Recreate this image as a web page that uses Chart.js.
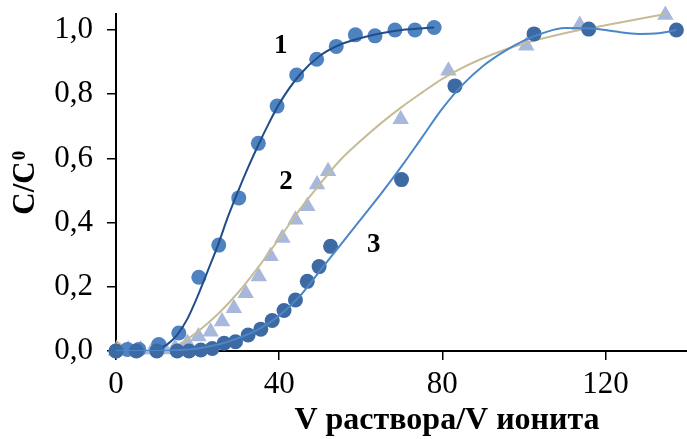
<!DOCTYPE html>
<html>
<head>
<meta charset="utf-8">
<script src="https://cdn.jsdelivr.net/npm/chart.js@4"></script>
<style>
  body { margin: 0; background: #fff; }
  #contenedor { width: 687px; height: 439px; }
</style>
</head>
<body>
<div id="contenedor"><canvas id="grafico" width="687" height="439"></canvas></div>
<script>
// Datos experimentales (C/C0 frente a V раствора/V ионита)
const x1 = [0, 2.8, 5.6, 10.5, 15.4, 20.3, 25.2, 30.1, 34.9, 39.5, 44.3, 49.2, 54, 58.7, 63.5, 68.4, 73.3, 78];
const y1 = [0, 0.005, 0.005, 0.02, 0.056, 0.23, 0.33, 0.477, 0.647, 0.763, 0.86, 0.909, 0.949, 0.985, 0.982, 1.0, 1.0, 1.008];

const x2 = [0, 3, 6, 9, 12, 14.5, 17.5, 20.2, 23.2, 26, 28.9, 31.8, 35, 37.9, 40.8, 44, 46.9, 49.3, 52, 69.8, 81.5, 100.6, 113.7, 134.7];
const y2 = [0, 0.005, 0.005, 0.005, 0.005, 0.01, 0.025, 0.045, 0.06, 0.092, 0.133, 0.18, 0.232, 0.295, 0.352, 0.409, 0.451, 0.519, 0.56, 0.722, 0.873, 0.951, 1.016, 1.047];

const x3 = [0, 5, 10, 15, 17.9, 20.8, 23.6, 26.5, 29.3, 32.4, 35.5, 38.3, 41.2, 44, 46.9, 49.8, 52.6, 70, 83.1, 102.5, 115.9, 137.4];
const y3 = [0, 0, 0, 0, 0, 0.003, 0.008, 0.024, 0.029, 0.05, 0.068, 0.095, 0.126, 0.159, 0.217, 0.263, 0.326, 0.534, 0.826, 0.988, 1.003, 1.0];

// Curvas de ajuste
const lx1 = [0, 5, 8, 10, 12.5, 15, 17.5, 20, 22.5, 25, 27.5, 30, 32.5, 35, 37.5, 40, 45, 50, 55, 60, 65, 70, 78];
const ly1 = [0, 0, 0, 0.005, 0.02, 0.05, 0.1, 0.17, 0.25, 0.33, 0.42, 0.5, 0.575, 0.645, 0.71, 0.77, 0.86, 0.92, 0.955, 0.975, 0.99, 1.0, 1.008];

const lx2 = [0, 2, 4, 8, 13, 16, 20, 25, 30, 35, 40, 45, 50, 55, 60, 65, 70, 75, 80, 85, 90, 95, 100, 110, 120, 134.7];
const ly2 = [0.032, 0.012, 0.002, 0, 0.004, 0.025, 0.06, 0.115, 0.183, 0.263, 0.35, 0.44, 0.52, 0.595, 0.655, 0.71, 0.76, 0.805, 0.848, 0.883, 0.912, 0.937, 0.958, 0.99, 1.015, 1.05];

const lx3 = [0, 10, 15, 20, 25, 30, 35, 40, 45, 50, 55, 60, 65, 70, 75, 80, 85, 90, 95, 100, 105, 110, 116.7, 122, 128.2, 133, 137.4];
const ly3 = [0, 0, 0.002, 0.008, 0.02, 0.04, 0.068, 0.11, 0.17, 0.25, 0.33, 0.41, 0.49, 0.575, 0.665, 0.755, 0.83, 0.888, 0.932, 0.967, 0.992, 1.006, 1.005, 0.996, 0.988, 0.99, 1.0];

const xTicks = [0, 40, 80, 120];
const yTicks = [0, 0.2, 0.4, 0.6, 0.8, 1.0];

// Etiquetas de las curvas
const etiquetas = ['1', '2', '3'];
const etiquetasX = [40.4, 41.7, 63.2];
const etiquetasY = [0.951, 0.527, 0.33];

function puntos(xs, ys) {
    return xs.map((x, i) => ({ x: x, y: ys[i] }));
}

const fuente = 'Liberation Serif, Times New Roman, serif';

const pluginTextos = {
    id: 'textos',
    afterDraw(chart) {
        const c = chart.ctx;
        const sx = chart.scales.x, sy = chart.scales.y;
        c.save();
        c.fillStyle = '#000';
        c.textAlign = 'center';
        c.textBaseline = 'middle';
        c.font = 'bold 27px ' + fuente;
        etiquetas.forEach((t, i) => {
            c.fillText(t, sx.getPixelForValue(etiquetasX[i]), sy.getPixelForValue(etiquetasY[i]));
        });
        // titulo eje X
        c.font = 'bold 32px ' + fuente;
        c.fillText('V раствора/V ионита', 447, 421);
        // titulo eje Y
        c.translate(26, 183);
        c.rotate(-Math.PI / 2);
        c.textAlign = 'left';
        c.font = 'bold 31px ' + fuente;
        const w = c.measureText('C/C').width;
        c.fillText('C/C', -w / 2 - 5, 0);
        c.font = 'bold 19px ' + fuente;
        c.fillText('0', w / 2 - 4, -6);
        c.restore();
    }
};

// sin relleno extra alrededor de los ejes
function sinPadding(s) {
    s.paddingTop = 0;
    s.paddingBottom = 0;
    s.paddingLeft = 0;
    s.paddingRight = 0;
}

const ctx = document.getElementById('grafico').getContext('2d');
new Chart(ctx, {
    type: 'scatter',
    data: {
        datasets: [
            { data: puntos(lx3, ly3), showLine: true, pointRadius: 0, borderColor: '#4a86c8', borderWidth: 2, cubicInterpolationMode: 'monotone' },
            { data: puntos(x3, y3), pointRadius: 7.5, backgroundColor: '#3e6aa4', borderWidth: 0, clip: false },
            { data: puntos(lx1, ly1), showLine: true, pointRadius: 0, borderColor: '#1f4e8a', borderWidth: 2, cubicInterpolationMode: 'monotone' },
            { data: puntos(x1, y1), pointRadius: 7.5, backgroundColor: '#4f82c0', borderWidth: 0, clip: false },
            { data: puntos(lx2, ly2), showLine: true, pointRadius: 0, borderColor: '#c6bd96', borderWidth: 2, cubicInterpolationMode: 'monotone' },
            { data: puntos(x2, y2), pointRadius: 9.5, pointStyle: 'triangle', backgroundColor: '#a7b8dc', borderWidth: 0, clip: false }
        ]
    },
    options: {
        responsive: false,
        animation: false,
        layout: { autoPadding: false, padding: { top: 14, right: 0, left: 0, bottom: 0 } },
        plugins: { legend: { display: false }, tooltip: { enabled: false } },
        scales: {
            x: {
                type: 'linear',
                min: 0,
                max: 140,
                afterBuildTicks: s => { s.ticks = xTicks.map(v => ({ value: v })); },
                afterFit: s => { s.height = 88; sinPadding(s); },
                grid: { drawOnChartArea: false, drawTicks: true, tickLength: 9, color: '#000', lineWidth: 1.5 },
                border: { color: '#000', width: 2 },
                ticks: { color: '#000', font: { family: fuente, size: 31 }, padding: 6, maxRotation: 0 }
            },
            y: {
                min: 0,
                max: 1.05,
                afterBuildTicks: s => { s.ticks = yTicks.map(v => ({ value: v })); },
                afterFit: s => { s.width = 116; sinPadding(s); },
                grid: { drawOnChartArea: false, drawTicks: true, tickLength: 9, color: '#000', lineWidth: 1.5 },
                border: { color: '#000', width: 2 },
                ticks: {
                    color: '#000',
                    font: { family: fuente, size: 31 },
                    padding: 14,
                    callback: v => v.toFixed(1).replace('.', ',')
                }
            }
        }
    },
    plugins: [pluginTextos]
});
</script>
</body>
</html>
